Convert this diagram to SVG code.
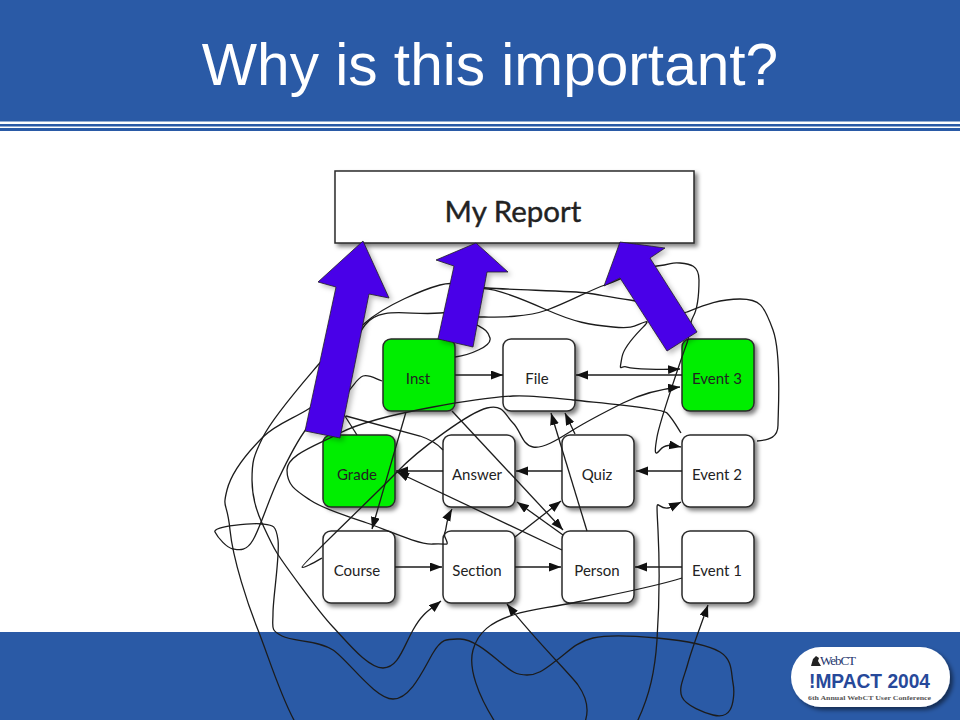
<svg xmlns="http://www.w3.org/2000/svg" width="960" height="720" viewBox="0 0 960 720">
<style>
.band{fill:#2a5aa6}
.title{font-family:"Liberation Sans",Arial,sans-serif;font-size:58.600px;fill:#fff;text-anchor:middle}
.box{fill:#fff;stroke:#2a2a2a;stroke-width:1.5;filter:url(#sh)}
.green{fill:#00ee00}
.lbl{font-family:Lato,"Open Sans",sans-serif;font-size:15px;fill:#222;text-anchor:middle}
.c{fill:none;stroke:#1c1c1c;stroke-width:1.3}
.a{marker-end:url(#h)}
.big{fill:#4a00e8;stroke:#222;stroke-width:.8;filter:url(#sh2)}
</style>
<defs>
<filter id="sh" x="-15%" y="-15%" width="130%" height="130%"><feDropShadow dx="3" dy="3" stdDeviation="2" flood-color="#000" flood-opacity=".5"/></filter>
<filter id="sh2" x="-15%" y="-15%" width="130%" height="130%"><feDropShadow dx="3" dy="3" stdDeviation="2.5" flood-color="#000" flood-opacity=".25"/></filter>
<marker id="h" markerUnits="userSpaceOnUse" markerWidth="14" markerHeight="10" refX="12" refY="4.500" orient="auto"><path d="M0,0L12,4.500L0,9Z" fill="#111"/></marker>
</defs>
<rect width="960" height="720" fill="#fff"/>
<g id="header">
<rect class="band" width="960" height="121.500"/>
<rect class="band" y="124" width="960" height="2.500"/>
<rect class="band" y="128" width="960" height="3"/>
<text class="title" x="490" y="85">Why is this important?</text>
</g>
<rect id="footer" class="band" y="632" width="960" height="88"/>
<g id="logo">
<rect x="791" y="647" width="159" height="60" rx="30" fill="#fff" filter="url(#sh)"/>
<path d="M811,666l2,-7l3,-3l3,2l-1,3l3,5z" fill="#222"/>
<text x="820" y="665" font-family="Liberation Serif,serif" font-size="13" fill="#23356e" textLength="36">WebCT</text>
<text x="809" y="688" font-family="Liberation Sans,sans-serif" font-weight="bold" font-size="20" fill="#27499a" textLength="121" lengthAdjust="spacingAndGlyphs">!MPACT 2004</text>
<text x="808" y="699.500" font-family="Liberation Serif,serif" font-weight="bold" font-size="6.500" fill="#555" textLength="123" lengthAdjust="spacingAndGlyphs">6th Annual WebCT User Conference</text>
</g>
<g id="report"><rect class="box" x="335" y="171" width="359" height="72"/><text x="513" y="222" font-family="Lato,sans-serif" font-size="29.500" fill="#222" stroke="#222" stroke-width=".4" text-anchor="middle">My Report</text></g>
<g id="inst"><rect class="box green" x="383" y="339" width="72" height="72" rx="8"/><text class="lbl" x="418" y="384">Inst</text></g>
<g id="file"><rect class="box" x="503" y="339" width="72" height="72" rx="8"/><text class="lbl" x="537" y="384">File</text></g>
<g id="event3"><rect class="box green" x="682" y="339" width="72" height="72" rx="8"/><text class="lbl" x="717" y="384">Event 3</text></g>
<g id="grade"><rect class="box green" x="323" y="435" width="72" height="72" rx="8"/><text class="lbl" x="357" y="480">Grade</text></g>
<g id="answer"><rect class="box" x="443" y="435" width="72" height="72" rx="8"/><text class="lbl" x="477" y="480">Answer</text></g>
<g id="quiz"><rect class="box" x="562" y="435" width="72" height="72" rx="8"/><text class="lbl" x="597" y="480">Quiz</text></g>
<g id="event2"><rect class="box" x="682" y="435" width="72" height="72" rx="8"/><text class="lbl" x="717" y="480">Event 2</text></g>
<g id="course"><rect class="box" x="323" y="531" width="72" height="72" rx="8"/><text class="lbl" x="357" y="576">Course</text></g>
<g id="section"><rect class="box" x="443" y="531" width="72" height="72" rx="8"/><text class="lbl" x="477" y="576">Section</text></g>
<g id="person"><rect class="box" x="562" y="531" width="72" height="72" rx="8"/><text class="lbl" x="597" y="576">Person</text></g>
<g id="event1"><rect class="box" x="682" y="531" width="72" height="72" rx="8"/><text class="lbl" x="717" y="576">Event 1</text></g>
<g id="connectors">
<path class="c a" d="M455,375H503"/>
<path class="c a" d="M682,375H576"/>
<path class="c a" d="M443,471H396"/>
<path class="c a" d="M562,471H516"/>
<path class="c a" d="M682,471H636"/>
<path class="c a" d="M395,567H442"/>
<path class="c a" d="M515,567H561"/>
<path class="c a" d="M682,567H635"/>
<path class="c a" d="M452,411L563,530"/>
<path class="c a" d="M563,535L517,502"/>
<path class="c a" d="M515,537L561,501"/>
<path class="c a" d="M587,531L551,413"/>
<path class="c a" d="M575,434L565,413"/>
<path class="c a" d="M562,550L397,472"/>
<path class="c a" d="M406,412L372,529"/>
<path class="c" d="M357,435L343,413"/>
<path class="c" d="M346,416L420,436Q435,441 443,450"/>
<path class="c a" d="M382,381C376,379 369,374 363,376S354,386 345,395S318,414 307,428S287,461 278,480S260,528 253,540S239,550 233,549S218,538 215,532S253,523 263,524S276,525 278,540S273,598 273,613S270,630 282,636S318,640 333,650S375,699 393,699S424,668 433,653S447,639 460,639S489,653 500,662S515,675 527,675S546,668 557,660S576,642 593,638S636,636 657,638S707,644 720,652S731,673 733,683S733,705 730,710S721,717 713,715S686,706 682,697S684,678 688,663S700,628 708,605"/>
<path class="c a" d="M757,441C770,440 778,437 778,425S782,355 773,330S760,299 740,299S705,305 687,312S650,303 630,300S600,295 587,293S515,290 487,288S455,281 440,285S385,305 365,323S335,345 318,365S273,417 263,437S252,462 252,480S256,510 262,523S272,545 277,553S317,610 333,627S368,668 383,668S403,648 413,630S430,610 441,601"/>
<path class="c a" d="M295,722C280,695 268,655 258,630S233,560 230,530S222,510 227,490S250,450 263,437S295,418 310,408S350,345 365,325S410,316 440,313S465,317 480,317S525,318 547,310S590,290 605,285S640,268 657,266S670,262 680,263S699,265 699,280S697,310 693,317S690,335 687,343S660,420 657,437S655,456 660,450S670,445 681,447"/>
<path class="c a" d="M455,357C470,355 492,346 490,338S482,328 477,325S470,302 465,300S470,292 480,289S520,298 547,310S590,325 613,327S635,325 645,322S625,340 622,357S620,365 627,367S660,370 680,369"/>
<path class="c a" d="M681,433C676,425 672,418 667,413S600,403 573,400S530,395 513,396S460,402 433,407S365,420 340,433S287,455 287,470S295,490 310,500S345,515 367,523S420,545 433,544S448,546 447,542S443,536 445,532S445,522 452,509"/>
<path class="c a" d="M322,558C315,562 303,569 302,567S375,495 397,472S470,412 487,408S505,415 513,423S522,445 533,447S560,438 573,430S605,412 623,403S660,389 680,387"/>
<path class="c" d="M682,578C650,588 610,595 577,602S535,608 513,615S478,632 473,650S478,695 495,722"/>
<path class="c a" d="M585,722C590,708 585,695 578,685S535,640 507,604"/>
<path class="c a" d="M637,722C650,695 655,670 657,640S660,570 658,530S656,510 668,508S675,505 681,502"/>
</g>
<g id="big-arrows">
<polygon class="big" points="363,241 389,298 369,294 340,438 305,431 336,287 318,282"/>
<polygon class="big" points="476,243 508,272 487,272 473,347 438,339 454,266 436,260"/>
<polygon class="big" points="620,242 665,248 650,258 697,332 667,351 620,278 604,286"/>
</g>
</svg>
